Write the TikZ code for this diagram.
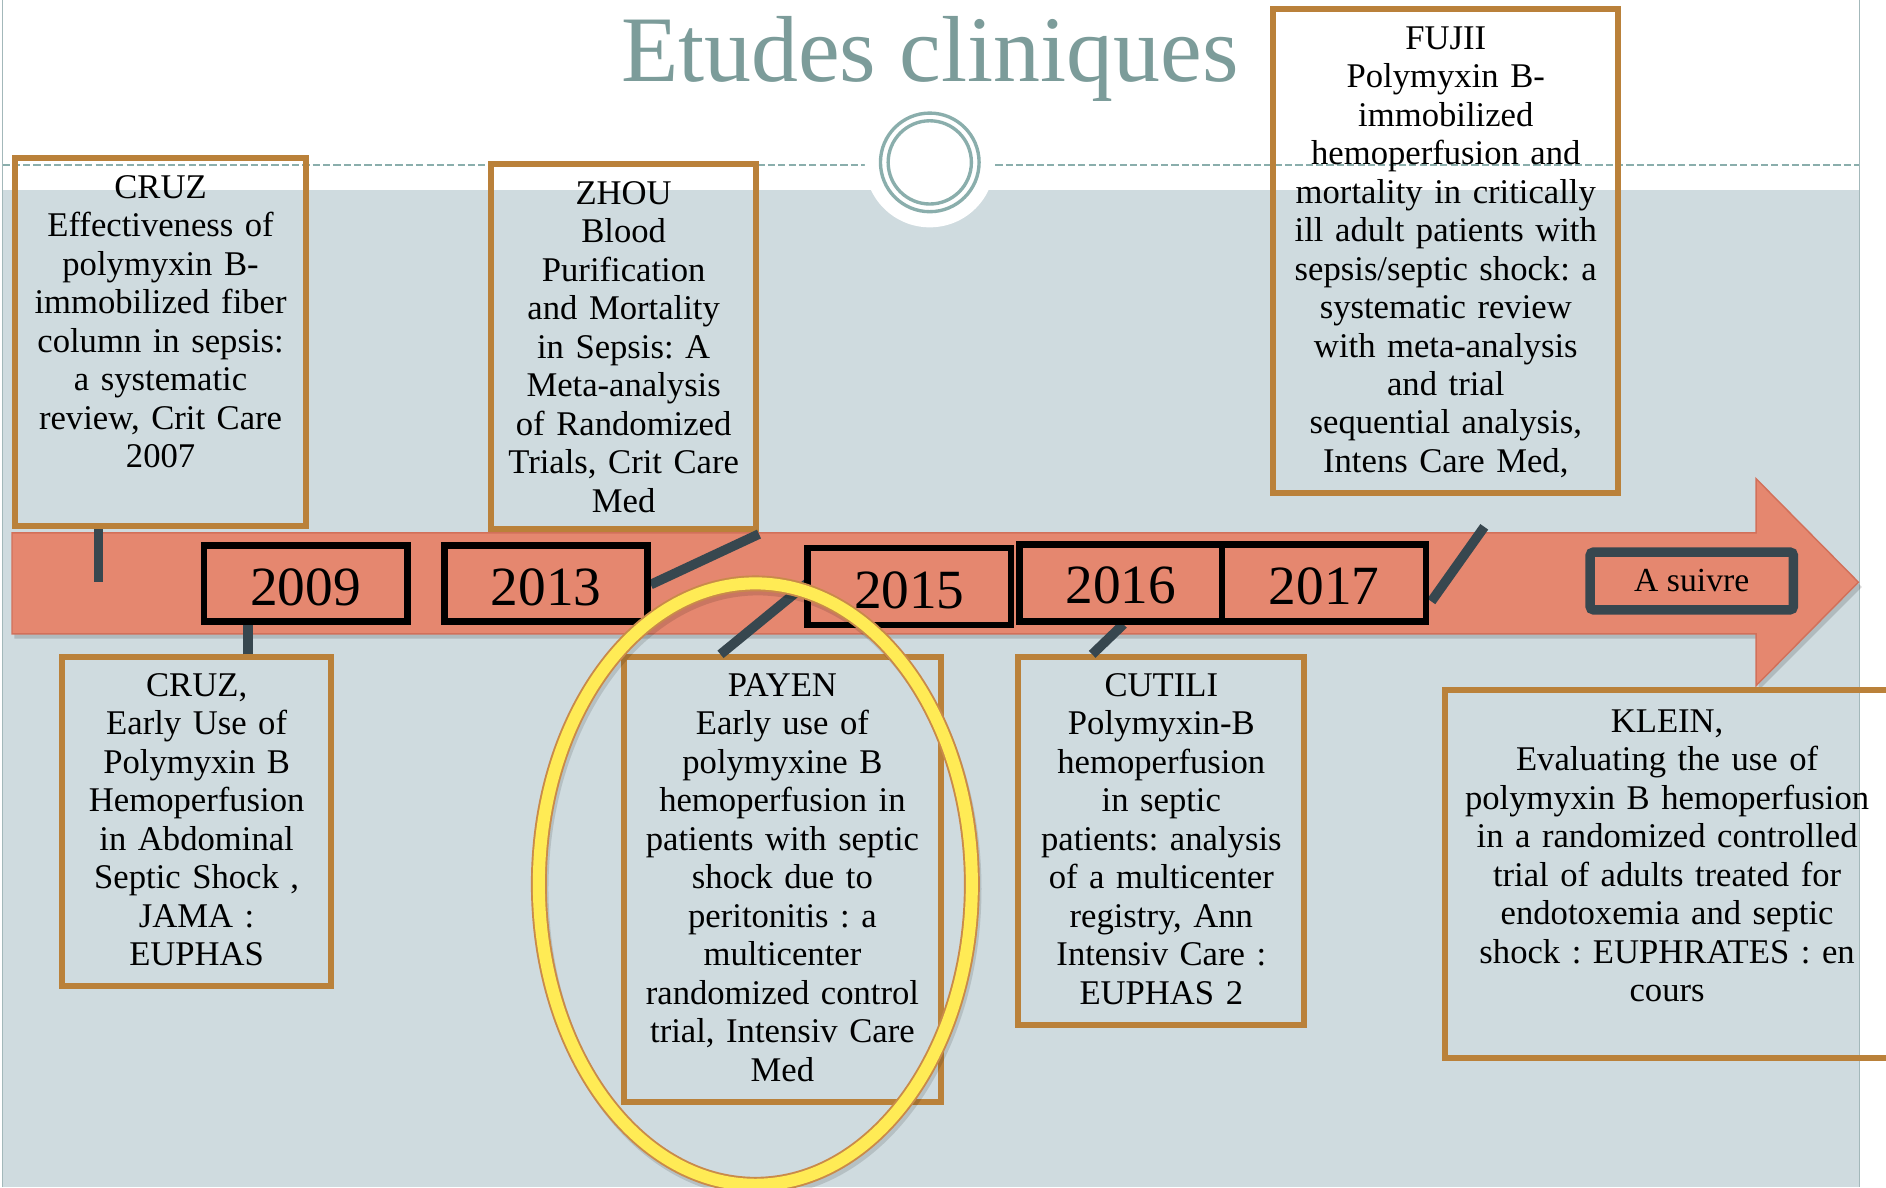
\documentclass[tikz,border=0pt]{standalone}
\usepackage{fontspec}
\setmainfont{Liberation Serif}
\frenchspacing
\usetikzlibrary{calc,fit}
\definecolor{bggray}{HTML}{CFDBDF}
\definecolor{titlec}{HTML}{7C9C9A}
\definecolor{ringc}{HTML}{8AAEAC}
\definecolor{framec}{HTML}{A3B8BA}
\definecolor{arrowf}{HTML}{E5876F}
\definecolor{arrowd}{HTML}{D2705A}
\definecolor{boxc}{HTML}{BA813A}
\definecolor{connc}{HTML}{37474F}
\definecolor{hly}{HTML}{FFEB55}
\definecolor{hlo}{HTML}{C98A4A}
\tikzset{
  obox/.style={draw=boxc, line width=2.5pt, inner sep=0pt, rectangle},
  ybox/.style={draw=black, fill=arrowf, line width=2.8pt, inner sep=0pt, rectangle},
  ytext/.style={inner sep=0pt, anchor=center, font=\fontsize{23}{26}\selectfont},
  sbox/.style={draw=connc, fill=arrowf, line width=4pt, inner sep=0pt, rectangle,
    rounded corners=1.5pt},
  stext/.style={inner sep=0pt, anchor=center, font=\fontsize{14}{16}\selectfont},
  btext/.style={anchor=north, inner sep=0pt, align=center, text width=300pt,
    font=\fontsize{14.4}{16}\selectfont},
  conn/.style={draw=connc, line width=4pt},
}
\begin{document}
\begin{tikzpicture}[x=0.5pt,y=-0.5pt]
\useasboundingbox (0,0) rectangle (1568,987);
% background
\fill[white] (0,0) rectangle (1568,987);
\fill[bggray] (2,158) rectangle (1546,987);
\draw[ringc, line width=0.7pt, dash pattern=on 3pt off 1.3pt] (2,137) -- (1546,137);
\fill[white] (773,135) circle[radius=27pt];
\draw[ringc, line width=1.4pt] (773,135) circle[radius=20.5pt];
\draw[ringc, line width=1.4pt] (773,135) circle[radius=17.3pt];
\draw[framec, line width=0.5pt] (2,0) -- (2,987);
\draw[framec, line width=0.5pt] (1546,0) -- (1546,987);
% title
\node[titlec, anchor=base, inner sep=0pt, font=\fontsize{39}{44}\selectfont] (title) at (773,68) {Etudes cliniques};
% arrow
\fill[black, opacity=0.15] (12,447) -- (1462,447) -- (1462,402) -- (1548,488) -- (1462,574) -- (1462,531) -- (12,531) -- cycle;
\filldraw[fill=arrowf, draw=arrowd, line width=0.6pt] (10,443) -- (1460,443) -- (1460,398) -- (1545,484) -- (1460,570) -- (1460,527) -- (10,527) -- cycle;
% text boxes
\node[obox, fit={(12.5,131.5) (254.5,437.5)}] (cruz1) {};
\node[obox, fit={(408.5,136.5) (628.5,439.5)}] (zhou) {};
\node[obox, fit={(1058.5,7.5) (1345.5,409.5)}] (fujii) {};
\node[obox, fit={(51.5,546.5) (275.5,819.5)}] (cruz2) {};
\node[obox, fit={(518.5,546.5) (782.5,916.5)}] (payen) {};
\node[obox, fit={(846.5,546.5) (1084.5,852.5)}] (cutili) {};
\node[obox, fit={(1201.5,573.5) (1600,879.5)}] (klein) {};
% connectors
\coordinate (c1end) at (82,484);
\coordinate (fujend) at (1234,438);
\draw[conn] (cruz1.south -| c1end) -- (c1end);
\draw[conn] ($(cruz2.north west)+(157,0)$) -- ++(0,-28) coordinate (c2end);
\draw[conn] ($(zhou.south east)+(0,2)$) -- (541,486) coordinate (zend);
\draw[conn] ($(payen.north west)+(83,0)$) -- (671,485) coordinate (pend);
\draw[conn] ($(cutili.north west)+(64,0)$) -- (934,519) coordinate (cend);
\draw[conn] (1190,500) coordinate (fst) -- (fujend);
% year boxes
\node[ybox, fit={(169.5,453.5) (338.5,516.5)}] (y2009) {};
\node[ybox, fit={(369.5,453.5) (538.5,516.5)}] (y2013) {};
\node[ybox, fit={(671.5,455.5) (840.5,519.5)}] (y2015) {};
\node[ybox, fit={(847.5,452.5) (1016,516.5)}] (y2016) {};
\node[ybox, fit={(1016,452.5) (1185.5,516.5)}] (y2017) {};
\node[sbox, fit={(1322,459) (1491,507)}] (suivre) {};
\node[ytext] (l2009) at ($(y2009.center)+(0,3)$) {2009};
\node[ytext] (l2013) at ($(y2013.center)+(0,3)$) {2013};
\node[ytext] (l2015) at ($(y2015.center)+(0,3)$) {2015};
\node[ytext] (l2016) at ($(y2016.center)+(0,2)$) {2016};
\node[ytext] (l2017) at ($(y2017.center)+(0,3)$) {2017};
\node[stext] (lsuivre) at (suivre.center) {A suivre};
% texts
\node[btext] (t1) at ($(cruz1.north)+(0,13)$) {\strut CRUZ\\Effectiveness of\\polymyxin B-\\immobilized fiber\\column in sepsis:\\a systematic\\review, Crit Care\\2007};
\node[btext] (t2) at ($(zhou.north)+(0,13)$) {\strut ZHOU\\Blood\\Purification\\and Mortality\\in Sepsis: A\\Meta-analysis\\of Randomized\\Trials, Crit Care\\Med};
\node[btext] (t3) at ($(fujii.north)+(0,13)$) {\strut FUJII\\Polymyxin B-\\immobilized\\hemoperfusion and\\mortality in critically\\ill adult patients with\\sepsis/septic shock: a\\systematic review\\with meta-analysis\\and trial\\sequential analysis,\\Intens Care Med,};
\node[btext] (t4) at ($(cruz2.north)+(0,12)$) {\strut CRUZ,\\Early Use of\\Polymyxin B\\Hemoperfusion\\in Abdominal\\Septic Shock ,\\JAMA :\\EUPHAS};
\node[btext] (t5) at ($(payen.north)+(0,12)$) {\strut PAYEN\\Early use of\\polymyxine B\\hemoperfusion in\\patients with septic\\shock due to\\peritonitis : a\\multicenter\\randomized control\\trial, Intensiv Care\\Med};
\node[btext] (t6) at ($(cutili.north)+(0,12)$) {\strut CUTILI\\Polymyxin-B\\hemoperfusion\\in septic\\patients: analysis\\of a multicenter\\registry, Ann\\Intensiv Care :\\EUPHAS 2};
\node[btext] (t7) at (1386,586) {\strut KLEIN,\\Evaluating the use of\\polymyxin B hemoperfusion\\in a randomized controlled\\trial of adults treated for\\endotoxemia and septic\\shock : EUPHRATES : en\\cours};
% highlight ellipse
\draw[black, opacity=0.12, line width=6pt] (630,739) ellipse[x radius=90pt, y radius=125pt];
\draw[hlo, line width=6.6pt] (628,735) ellipse[x radius=90pt, y radius=125pt];
\draw[hly, line width=5pt] (628,735) ellipse[x radius=90pt, y radius=125pt];
\end{tikzpicture}
\end{document}
